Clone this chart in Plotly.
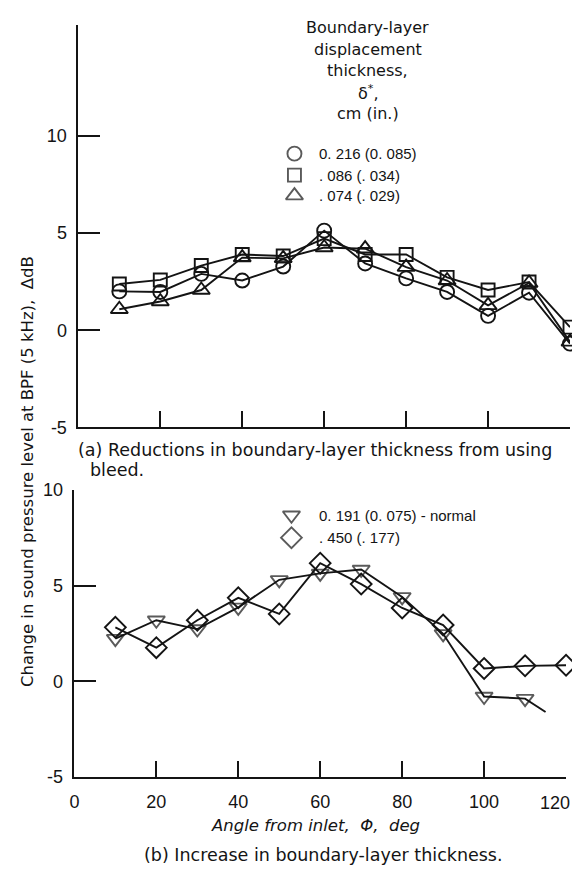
import plotly.graph_objects as go

# ---- data -------------------------------------------------------------
angle = [10, 20, 30, 40, 50, 60, 70, 80, 90, 100, 110, 120]

# (a) reductions in boundary-layer thickness from using bleed
d_0216 = [2.0, 1.97, 2.9, 2.56, 3.28, 5.13, 3.44, 2.67, 1.97, 0.74, 1.93, -0.69]
d_0086 = [2.38, 2.59, 3.33, 3.9, 3.82, 4.72, 3.9, 3.9, 2.72, 2.07, 2.48, 0.16]
d_0074 = [1.08, 1.48, 2.07, 3.74, 3.7, 4.26, 4.2, 3.25, 2.56, 1.28, 2.43, -0.6]

# (b) increase in boundary-layer thickness
angle_b1 = [10, 20, 30, 40, 50, 60, 70, 80, 90, 100, 110, 115]
d_0191 = [2.23, 3.19, 2.73, 3.86, 5.3, 5.64, 5.84, 4.41, 2.48, -0.79, -0.9, -1.6]
d_0450 = [2.82, 1.76, 3.19, 4.36, 3.52, 6.17, 5.08, 3.83, 2.94, 0.67, 0.81, 0.84]

y_ticks = [-5, 0, 5, 10]
y_tick_text = ["-5", "0", "5", "10"]
x_ticks = [0, 20, 40, 60, 80, 100]
x_tick_text = ["0", "20", "40", "60", "80", "100"]
x_end = 120
x_end_text = "120"

legend_a = ["0. 216 (0. 085)", ". 086 (. 034)", ". 074 (. 029)"]
legend_b = ["0. 191 (0. 075) - normal", ". 450 (. 177)"]

# ---- styling ----------------------------------------------------------
W, H = 572, 878
INK = "#141414"
TXT = "DejaVu Sans, Liberation Sans, sans-serif"
NUM = "Liberation Sans, Arial, sans-serif"


def px(x):
    return x / W


def py(y):
    return 1 - y / H


def series(x, y, symbol, size, xa, ya, sizes=None):
    return go.Scatter(
        x=x, y=y, mode="lines+markers", xaxis=xa, yaxis=ya, cliponaxis=False,
        line=dict(color=INK, width=1.9),
        marker=dict(symbol=symbol, size=sizes if sizes else size,
                    color=INK, line=dict(color=INK, width=1.9)),
        showlegend=False, hoverinfo="skip",
    )


fig = go.Figure()
fig.add_trace(series(angle, d_0216, "circle-open", 14, "x", "y"))
fig.add_trace(series(angle, d_0086, "square-open", 13, "x", "y"))
fig.add_trace(series(angle, d_0074, "triangle-up-open", 15, "x", "y"))

sizes_b1 = [15] * (len(angle_b1) - 1) + [0]
fig.add_trace(series(angle_b1, d_0191, "triangle-down-open", 15, "x2", "y2", sizes_b1))
fig.add_trace(series(angle, d_0450, "diamond-open", 16, "x2", "y2"))

# legend keys drawn on a pixel-space overlay axis
key_sym_a = ["circle-open", "square-open", "triangle-up-open"]
key_size_a = [14, 13, 15]
key_y_a = [147, 169, 190]
key_sym_b = ["triangle-down-open", "diamond-open"]
key_size_b = [15, 16]
key_y_b = [517, 540]
fig.add_trace(go.Scatter(
    x=[292] * 3 + [289] * 2, y=key_y_a + key_y_b, mode="markers",
    xaxis="x3", yaxis="y3", cliponaxis=False,
    marker=dict(symbol=key_sym_a + key_sym_b, size=key_size_a + key_size_b,
                color=INK, line=dict(color=INK, width=1.9)),
    showlegend=False, hoverinfo="skip",
))

axis_common = dict(
    showline=True, linecolor=INK, linewidth=1.7, showgrid=False,
    zeroline=False, ticks="inside", tickcolor=INK, tickwidth=1.7,
)

fig.update_layout(
    width=W, height=H,
    margin=dict(l=0, r=0, t=0, b=0),
    paper_bgcolor="white", plot_bgcolor="rgba(0,0,0,0)",
    showlegend=False,
    xaxis=dict(domain=[px(74), px(570)], range=[0, 120], anchor="y",
               tickvals=x_ticks[1:] + [x_end], ticklen=16, showticklabels=False,
               **axis_common),
    yaxis=dict(domain=[py(427), py(15)], range=[-5, 15.74], anchor="x",
               tickvals=y_ticks, ticktext=y_tick_text, ticklen=22,
               ticklabelstandoff=6,
               tickfont=dict(family=NUM, size=18, color=INK),
               **axis_common),
    xaxis2=dict(domain=[px(70), px(566)], range=[0, 120], anchor="y2",
                tickvals=x_ticks, ticktext=x_tick_text, ticklen=16,
                ticklabelstandoff=7,
                tickfont=dict(family=NUM, size=18, color=INK),
                minor=dict(tickvals=[x_end], ticks="inside", ticklen=16,
                           tickwidth=1.7, tickcolor=INK, showgrid=False),
                **axis_common),
    yaxis2=dict(domain=[py(785), py(491)], range=[-5, 10], anchor="x2",
                tickvals=y_ticks, ticktext=y_tick_text, ticklen=22,
                ticklabelstandoff=6,
                tickfont=dict(family=NUM, size=18, color=INK),
                **axis_common),
    xaxis3=dict(domain=[0, 1], range=[0, W], visible=False, fixedrange=True),
    yaxis3=dict(domain=[0, 1], range=[H, 0], visible=False, fixedrange=True,
                anchor="x3"),
)

ann = []


def text(x, y, s, size=16, family=TXT, anchor="center", angle=0):
    ann.append(dict(x=px(x), y=py(y), xref="paper", yref="paper", text=s,
                    showarrow=False, xanchor=anchor, yanchor="middle",
                    textangle=angle, font=dict(family=family, size=size, color=INK)))


# legend title for panel (a)
for yy, line in zip([18, 40, 62, 84, 106],
                    ["Boundary-layer", "displacement", "thickness,",
                     "δ<sup>*</sup>,", "cm (in.)"]):
    text(366, yy, line, size=16)

for yy, s in zip(key_y_a, legend_a):
    text(315, yy, s, size=15, family=NUM, anchor="left")
for yy, s in zip(key_y_b, legend_b):
    text(315, yy, s, size=15, family=NUM, anchor="left")

# last x tick label sits flush with the right edge
text(572, 811, x_end_text, size=18, family=NUM, anchor="right")

text(313, 450, "(a) Reductions in boundary-layer thickness from using", size=17.5)
text(84, 471, "bleed.", size=17.5, anchor="left")
text(313, 834, "<i>Angle from inlet,  Φ,  deg</i>", size=16.5)
text(321, 865, "(b) Increase in boundary-layer thickness.", size=17.5)
text(22, 472, "Change in sound pressure level at BPF (5 kHz),  ΔdB",
     size=16.5, angle=-90)

fig.update_layout(annotations=ann)
fig.write_html("out.html")
